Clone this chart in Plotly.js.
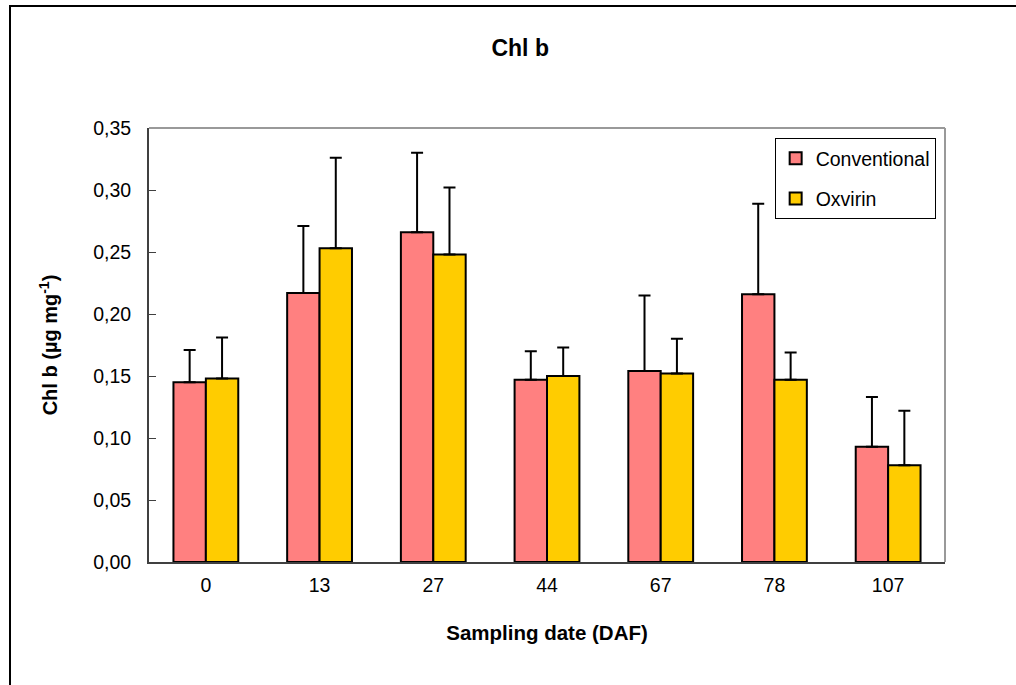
<!DOCTYPE html>
<html>
<head>
<meta charset="utf-8">
<script src="https://cdn.plot.ly/plotly-3.0.1.min.js"></script>
<style>
  html, body { margin: 0; padding: 0; background: #fff; }
  #chart { position: absolute; left: 0; top: 0; width: 1016px; height: 685px; }
  #frame { position: absolute; left: 9px; top: 5px; width: 1100px; height: 800px;
           border-left: 2px solid #000; border-top: 2px solid #000; pointer-events: none; }
</style>
</head>
<body>
<div id="chart"></div>
<div id="frame"></div>
<script>
// Data
const categories = ['0', '13', '27', '44', '67', '78', '107'];
const conventional = [0.145, 0.217, 0.266, 0.147, 0.154, 0.216, 0.093];
const conventionalErr = [0.026, 0.054, 0.064, 0.023, 0.061, 0.073, 0.040];
const oxvirin = [0.148, 0.253, 0.248, 0.150, 0.152, 0.147, 0.078];
const oxvirinErr = [0.033, 0.073, 0.054, 0.023, 0.028, 0.022, 0.044];
const yTicks = [0, 0.05, 0.10, 0.15, 0.20, 0.25, 0.30, 0.35];

const FONT = 'Liberation Sans, Arial, sans-serif';
const zeros = categories.map(() => 0);

const errStyle = (arr) => ({
  type: 'data', array: arr, arrayminus: zeros, symmetric: false,
  visible: true, color: '#000', thickness: 2, width: 6
});

const traces = [
  {
    type: 'bar', name: 'Conventional', x: categories, y: conventional,
    marker: { color: '#FF8080', line: { color: '#000', width: 2 } },
    error_y: errStyle(conventionalErr), legendgroup: 'a'
  },
  {
    type: 'bar', name: 'Oxvirin', x: categories, y: oxvirin,
    marker: { color: '#FFCC00', line: { color: '#000', width: 2 } },
    error_y: errStyle(oxvirinErr), legendgroup: 'b'
  }
];

const layout = {
  width: 1016, height: 685,
  margin: { l: 149, r: 71, t: 128, b: 123 },
  paper_bgcolor: '#fff', plot_bgcolor: '#fff',
  separators: ',.',
  font: { family: FONT, size: 19.5, color: '#000' },
  title: {
    text: '<b>Chl b</b>', font: { family: FONT, size: 23, color: '#000' },
    x: 0.512, xanchor: 'center', y: 1 - 48 / 685, yanchor: 'middle'
  },
  barmode: 'group', bargap: 0.43, bargroupgap: 0,
  showlegend: true,
  legend: {
    x: 0.786, y: 0.977, xanchor: 'left', yanchor: 'top',
    bgcolor: '#fff', bordercolor: '#000', borderwidth: 1,
    font: { family: FONT, size: 19.5, color: '#000' },
    tracegroupgap: 12, itemwidth: 30
  },
  xaxis: {
    type: 'category', categoryorder: 'array', categoryarray: categories,
    showline: true, linecolor: '#404040', linewidth: 2,
    ticks: '', showgrid: false, zeroline: false,
    tickfont: { family: FONT, size: 19.5, color: '#000' },
    ticklabelstandoff: 5,
    title: { text: '<b>Sampling date (DAF)</b>', font: { family: FONT, size: 20.5, color: '#000' }, standoff: 30 }
  },
  yaxis: {
    range: [0, 0.35], tickvals: yTicks, tickformat: '.2f',
    showline: true, linecolor: '#404040', linewidth: 2,
    ticks: 'inside', ticklen: 7, tickwidth: 1, tickcolor: '#404040',
    showgrid: false, zeroline: false,
    tickfont: { family: FONT, size: 19.5, color: '#000' },
    ticklabelstandoff: 12,
    title: { text: '<b>Chl b (µg mg<sup>-1</sup>)</b>', font: { family: FONT, size: 20, color: '#000' }, standoff: 30 }
  },
  shapes: [
    { type: 'line', xref: 'paper', yref: 'paper', x0: 0, x1: 1, y0: 1, y1: 1, line: { color: '#999', width: 2 } },
    { type: 'line', xref: 'paper', yref: 'paper', x0: 1, x1: 1, y0: 0, y1: 1, line: { color: '#999', width: 2 } }
  ]
};

Plotly.newPlot('chart', traces, layout, { displayModeBar: false, staticPlot: true });
</script>
</body>
</html>
